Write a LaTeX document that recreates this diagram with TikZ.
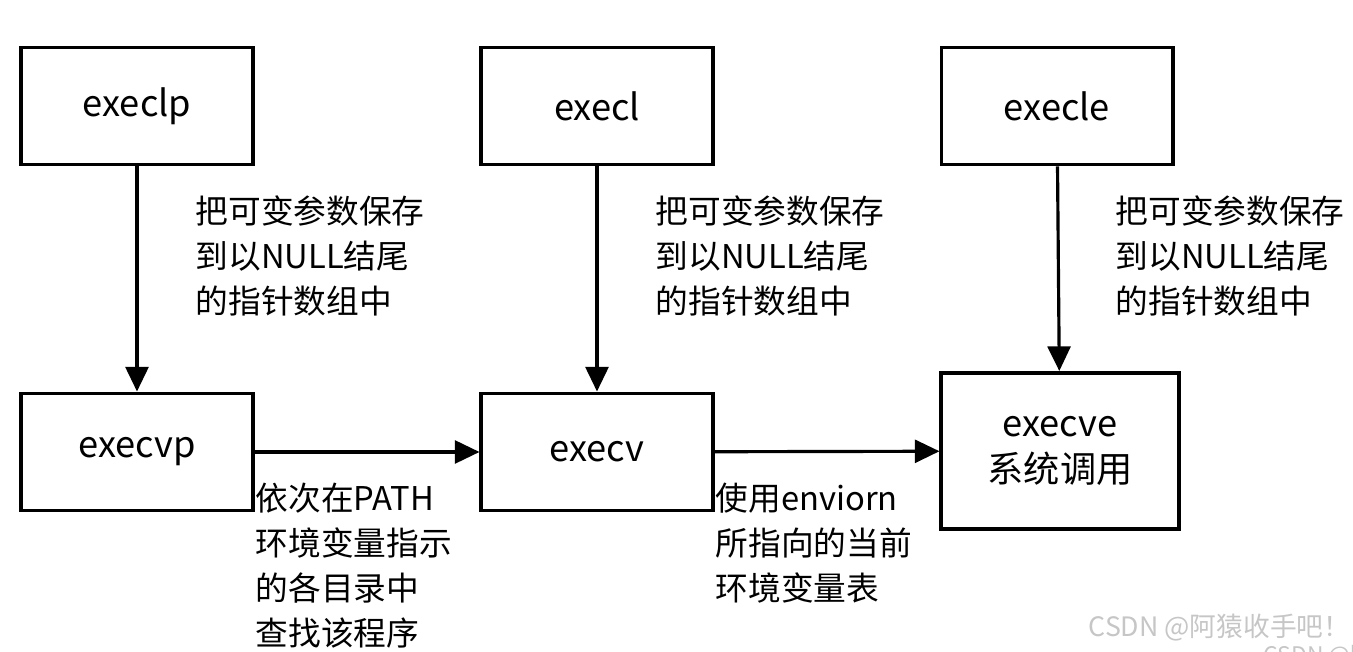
\documentclass[tikz,border=0pt]{standalone}
\usepackage{fontspec}
\setmainfont{Noto Sans CJK SC}
\usetikzlibrary{arrows.meta}

\begin{document}
\begin{tikzpicture}[x=0.01cm, y=-0.01cm,
    callbox/.style={draw, rectangle, line width=1.1pt, minimum width=2.31cm, minimum height=1.17cm, inner sep=0pt, font=\fontsize{10.3}{13}\selectfont},
    note/.style={anchor=north west, align=left, inner sep=0pt, font=\fontsize{9.3}{12.8}\selectfont},
    flow/.style={-{Triangle[length=7pt,width=6.5pt]}, line width=0.9pt}]
    \useasboundingbox (0,0) rectangle (1353,652);

    \node[callbox] (execlp) at (137,106) {execlp};
    \node[callbox] (execl) at (597,106) {execl};
    \node[callbox] (execle) at (1057,106) {execle};
    \node[callbox] (execvp) at (137,452) {execvp};
    \node[callbox] (execv) at (597,452) {execv};
    \node[callbox, minimum width=2.37cm, minimum height=1.56cm, align=center] (execve) at (1060,451) {execve\\系统调用};

    \draw[flow] (execlp) -- (execvp);
    \draw[flow] (execl) -- (execv);
    \draw[flow] (execle) -- (execve);
    \draw[flow] (execvp) -- (execv);
    \draw[flow] (execv) -- (execve);

    \node[note] (lpnote) at (195,195) {把可变参数保存\\到以NULL结尾\\的指针数组中};
    \node[note] (lnote) at (655,195) {把可变参数保存\\到以NULL结尾\\的指针数组中};
    \node[note] (lenote) at (1115,195) {把可变参数保存\\到以NULL结尾\\的指针数组中};
    \node[note] (vpnote) at (255,482) {依次在PATH\\环境变量指示\\的各目录中\\查找该程序};
    \node[note] (vnote) at (715,482) {使用enviorn\\所指向的当前\\环境变量表};

    % watermark
    \node[anchor=west, inner sep=0pt, text=gray!45, font=\fontsize{7.6}{10}\selectfont] (mark) at (1088,628) {CSDN @阿猿收手吧！};
    \node[anchor=west, inner sep=0pt, text=gray!45, font=\fontsize{6.5}{8}\selectfont] (mark2) at (1263,656) {CSDN @阿猿收手吧！};
\end{tikzpicture}
\end{document}
